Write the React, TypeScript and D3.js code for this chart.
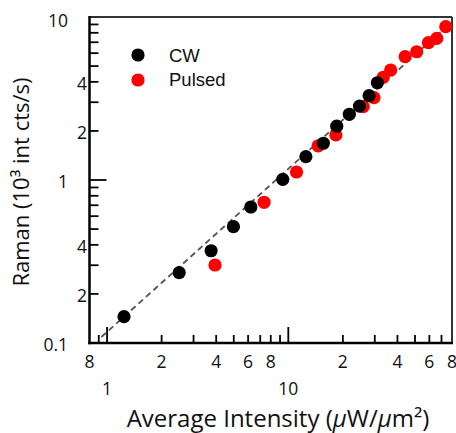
import React from "react";
import * as d3 from "d3";

const cwX = [1.24, 2.5, 3.75, 4.98, 6.21, 9.32, 12.5, 15.6, 18.5, 21.7, 24.7, 27.9, 31.0];
const cwY = [0.145, 0.27, 0.368, 0.517, 0.683, 1.01, 1.39, 1.68, 2.14, 2.53, 2.84, 3.29, 3.95];
const pulsedX = [3.94, 7.35, 11.1, 14.6, 18.3, 25.9, 29.7, 33.4, 36.7, 44.1, 51.1, 59.3, 65.9, 73.9];
const pulsedY = [0.301, 0.73, 1.12, 1.62, 1.89, 2.82, 3.2, 4.27, 4.73, 5.71, 6.12, 6.96, 7.4, 8.72];
const fitSlope = 0.117;
const fitRange = [0.93, 77];

const xMinorTicks = [0.9, 2, 3, 4, 5, 6, 7, 8, 9, 20, 30, 40, 50, 60, 70];
const xMajorTicks = [1, 10];
const xUpperLabels = [
  { v: 0.8, t: "8" }, { v: 2, t: "2" }, { v: 4, t: "4" }, { v: 6, t: "6" }, { v: 8, t: "8" },
  { v: 20, t: "2" }, { v: 40, t: "4" }, { v: 60, t: "6" }, { v: 80, t: "8" },
];
const xLowerLabels = [{ v: 1, t: "1" }, { v: 10, t: "10" }];
const yMinorTicks = [9, 8, 7, 6, 5, 4, 3, 2, 0.9, 0.8, 0.7, 0.6, 0.5, 0.4, 0.3, 0.2];
const yMajorTicks = [1];
const yLabels = [
  { v: 10, t: "10", major: true }, { v: 4, t: "4", major: false }, { v: 2, t: "2", major: false },
  { v: 1, t: "1", major: true }, { v: 0.4, t: "4", major: false }, { v: 0.2, t: "2", major: false },
  { v: 0.1, t: "0.1", major: true },
];

const W = 456, H = 433;
const left = 89.5, right = 452, top = 17, bottom = 343;

export default function App() {
  const x = d3.scaleLog().domain([0.8, 80]).range([left, right]);
  const y = d3.scaleLog().domain([0.1, 10]).range([bottom, top]);
  const fitX = d3.range(0, 51).map((i) => fitRange[0] * Math.pow(fitRange[1] / fitRange[0], i / 50));
  const line = d3.line<number>().x((d) => x(d)).y((d) => y(fitSlope * d));
  const tickFont = "'Open Sans', sans-serif";
  return (
    <svg width={W} height={H} style={{ position: "absolute", left: 0, top: 0, background: "#fff" }}>
      {/* frame top/right */}
      <line x1={left} x2={right} y1={top} y2={top} stroke="#333" strokeWidth={2} />
      <line x1={right} x2={right} y1={top} y2={bottom} stroke="#333" strokeWidth={2} />
      {/* fit line */}
      <path d={line(fitX) || ""} fill="none" stroke="#555" strokeWidth={1.8} strokeDasharray="6,4" />
      {/* data */}
      {pulsedX.map((v, i) => (
        <circle key={"p" + i} cx={x(v)} cy={y(pulsedY[i])} r={6.6} fill="#ff0000" />
      ))}
      {cwX.map((v, i) => (
        <circle key={"c" + i} cx={x(v)} cy={y(cwY[i])} r={6.6} fill="#000" />
      ))}
      {/* axes */}
      <line x1={left} x2={left} y1={top - 1} y2={bottom + 1.2} stroke="#000" strokeWidth={2.5} />
      <line x1={left - 1.2} x2={right + 1} y1={bottom} y2={bottom} stroke="#000" strokeWidth={2.5} />
      {xMinorTicks.map((v) => (
        <line key={"xm" + v} x1={x(v)} x2={x(v)} y1={bottom} y2={bottom - 8} stroke="#000" strokeWidth={1.8} />
      ))}
      {xMajorTicks.map((v) => (
        <line key={"xM" + v} x1={x(v)} x2={x(v)} y1={bottom} y2={bottom - 16} stroke="#000" strokeWidth={1.8} />
      ))}
      {yMinorTicks.map((v) => (
        <line key={"ym" + v} x1={left} x2={left + 9} y1={y(v)} y2={y(v)} stroke="#000" strokeWidth={1.8} />
      ))}
      {yMajorTicks.map((v) => (
        <line key={"yM" + v} x1={left} x2={left + 17} y1={y(v)} y2={y(v)} stroke="#000" strokeWidth={1.8} />
      ))}
      {/* tick labels */}
      {xUpperLabels.map((d, i) => (
        <text key={"xu" + i} x={x(d.v)} y={361} textAnchor="middle" dominantBaseline="central"
          fontFamily={tickFont} fontSize={17.5} fill="#111">{d.t}</text>
      ))}
      {xLowerLabels.map((d, i) => (
        <text key={"xl" + i} x={x(d.v)} y={388} textAnchor="middle" dominantBaseline="central"
          fontFamily={tickFont} fontSize={17.5} fill="#111">{d.t}</text>
      ))}
      {yLabels.map((d, i) => (
        <text key={"yl" + i} x={d.major ? 68 : 87} y={y(d.v) + (d.v === 10 ? 3 : 1)} textAnchor="end"
          dominantBaseline="central" fontFamily={tickFont} fontSize={17.5} fill="#111">{d.t}</text>
      ))}
      {/* axis titles */}
      <text x={278} y={417} textAnchor="middle" dominantBaseline="central" fontFamily={tickFont}
        fontSize={24} fill="#111">
        Average Intensity (<tspan fontStyle="italic">μ</tspan>W/<tspan fontStyle="italic">μ</tspan>m²)
      </text>
      <text transform="translate(20,182) rotate(-90)" textAnchor="middle" dominantBaseline="central"
        fontFamily={tickFont} fontSize={22} fill="#111">
        Raman (10³ int cts/s)
      </text>
      {/* legend */}
      <circle cx={138} cy={55} r={6.6} fill="#000" />
      <circle cx={138} cy={80} r={6.6} fill="#ff0000" />
      <text x={169} y={61.5} fontFamily="'Liberation Sans', Arial, sans-serif" fontSize={18.5} fill="#111">CW</text>
      <text x={169} y={86} fontFamily="'Liberation Sans', Arial, sans-serif" fontSize={18.5} fill="#111">Pulsed</text>
    </svg>
  );
}
